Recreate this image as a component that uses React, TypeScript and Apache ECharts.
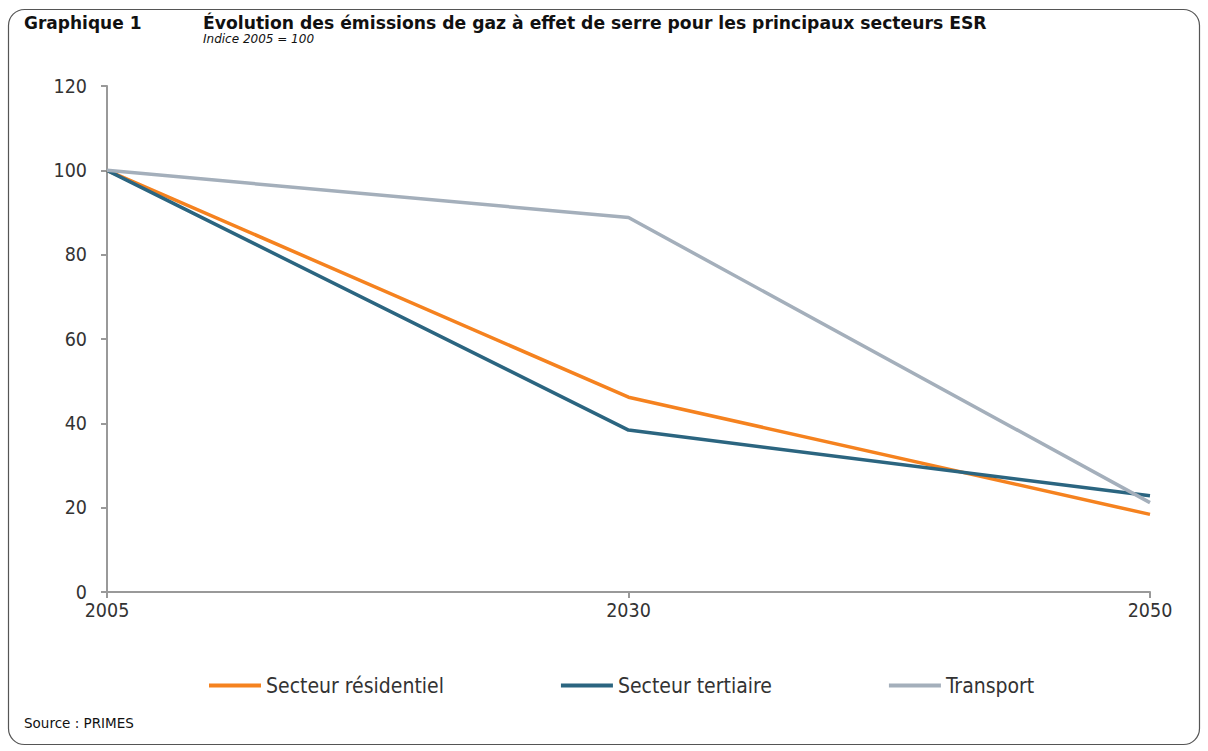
import React, { useEffect, useRef } from "react";
import * as echarts from "echarts";

const years = ["2005", "2030", "2050"];
const residentiel = [100, 46.2, 18.4];
const tertiaire = [100, 38.4, 22.8];
const transport = [100, 88.8, 21.2];
const yTicks = { min: 0, max: 120, interval: 20 };

const FONT = "'DejaVu Sans Condensed', 'DejaVu Sans', sans-serif";
const FONT_W = "'DejaVu Sans', sans-serif";

export default function App() {
  const ref = useRef<HTMLDivElement>(null);
  useEffect(() => {
    const chart = echarts.init(ref.current!, null, { renderer: "svg" });
    const mk = (name: string, data: number[], color: string) => ({
      name,
      type: "line",
      data,
      symbol: "none",
      lineStyle: { color, width: 3.5 },
      itemStyle: { color },
    });
    chart.setOption({
      animation: false,
      backgroundColor: "#fff",
      textStyle: { fontFamily: FONT },
      graphic: [
        {
          type: "rect",
          shape: { x: 8.5, y: 9.5, width: 1191, height: 735, r: 16 },
          style: { fill: "none", stroke: "#555", lineWidth: 1.2 },
          z: 0,
        },
        {
          type: "text",
          x: 24,
          y: 14,
          style: { text: "Graphique 1", font: `bold 17px ${FONT_W}`, fill: "#111" },
        },
        {
          type: "text",
          x: 203,
          y: 14,
          style: {
            text: "Évolution des émissions de gaz à effet de serre pour les principaux secteurs ESR",
            font: `bold 17.2px ${FONT_W}`,
            fill: "#111",
          },
        },
        {
          type: "text",
          x: 203,
          y: 33,
          style: { text: "Indice 2005 = 100", font: `italic 12px ${FONT_W}`, fill: "#111" },
        },
        {
          type: "text",
          x: 24,
          y: 716,
          style: { text: "Source : PRIMES", font: `13.5px ${FONT_W}`, fill: "#111" },
        },
      ],
      grid: { left: 107, right: 58, top: 86, bottom: 159, containLabel: false },
      legend: {
        bottom: 55,
        left: 209,
        padding: 0,
        itemGap: 117,
        itemWidth: 52,
        itemHeight: 4,
        icon: "rect",
        textStyle: { fontSize: 21, color: "#333", fontFamily: FONT },
        data: ["Secteur résidentiel", "Secteur tertiaire", "Transport"],
      },
      xAxis: {
        type: "category",
        data: years,
        boundaryGap: false,
        axisLine: { lineStyle: { color: "#999", width: 2 } },
        axisTick: { lineStyle: { color: "#999", width: 2 }, length: 6 },
        axisLabel: { fontSize: 19.5, color: "#333", margin: 8 },
      },
      yAxis: {
        type: "value",
        min: yTicks.min,
        max: yTicks.max,
        interval: yTicks.interval,
        splitLine: { show: false },
        axisLine: { show: true, lineStyle: { color: "#999", width: 2 } },
        axisTick: { show: true, lineStyle: { color: "#999", width: 2 }, length: 6 },
        axisLabel: { fontSize: 19.5, color: "#333", margin: 20 },
      },
      series: [
        mk("Secteur résidentiel", residentiel, "#F5821F"),
        mk("Secteur tertiaire", tertiaire, "#2B6580"),
        mk("Transport", transport, "#A4AFBB"),
      ],
    });
    return () => chart.dispose();
  }, []);
  return (
    <div
      ref={ref}
      style={{ position: "absolute", left: 0, top: 0, width: 1208, height: 751 }}
    />
  );
}
